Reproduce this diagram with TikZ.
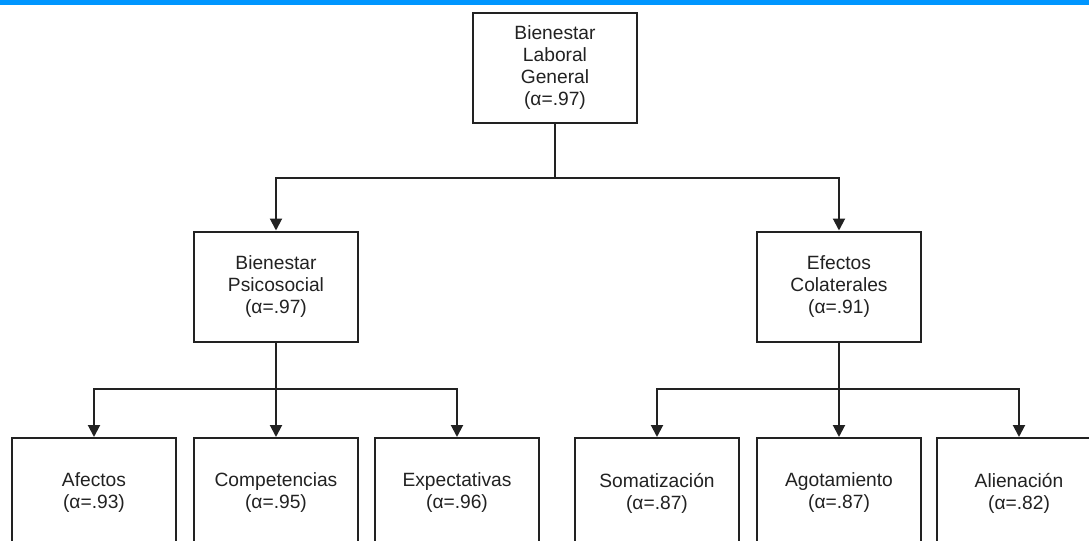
\documentclass[tikz,border=0pt]{standalone}
\usepackage{fontspec}
\setmainfont{Liberation Sans}
\usetikzlibrary{arrows.meta}
\definecolor{barblue}{RGB}{0,150,255}
\definecolor{ink}{RGB}{34,34,34}
\begin{document}
\begin{tikzpicture}[x=0.5pt, y=-0.5pt, line width=1pt,
  box/.style={draw=ink, fill=white, text=ink, minimum width=82pt, minimum height=55pt,
    align=center, inner sep=2pt, font=\fontsize{9.6}{11}\selectfont},
  link/.style={draw=ink, -{Triangle[width=6pt,length=6pt]}}]
\useasboundingbox (0,0) rectangle (1089,541);
\clip (0,0) rectangle (1089,541);
\fill[barblue] (0,0) rectangle (1089,4.5);

\node[box] (G) at (555,67.5){Bienestar\\Laboral\\General\\(α=.97)};
\node[box] (P) at (276,286.5){Bienestar\\Psicosocial\\(α=.97)};
\node[box] (C) at (839,286.5){Efectos\\Colaterales\\(α=.91)};
\node[box] (P1) at (94,493){Afectos\\(α=.93)};
\node[box] (P2) at (276,493){Competencias\\(α=.95)};
\node[box] (P3) at (457,493){Expectativas\\(α=.96)};
\node[box] (C1) at (657,493){Somatización\\(α=.87)};
\node[box] (C2) at (839,493){Agotamiento\\(α=.87)};
\node[box] (C3) at (1019,493){Alienación\\(α=.82)};

\coordinate (bus0) at (0,178);
\coordinate (bus1) at (0,389);

\draw[link] (G) -- (G |- bus0) -| (P);
\draw[link] (G) -- (G |- bus0) -| (C);

\draw[link] (P) -- (P |- bus1) -| (P1);
\draw[link] (P) -- (P2);
\draw[link] (P) -- (P |- bus1) -| (P3);

\draw[link] (C) -- (C |- bus1) -| (C1);
\draw[link] (C) -- (C2);
\draw[link] (C) -- (C |- bus1) -| (C3);

\end{tikzpicture}
\end{document}
